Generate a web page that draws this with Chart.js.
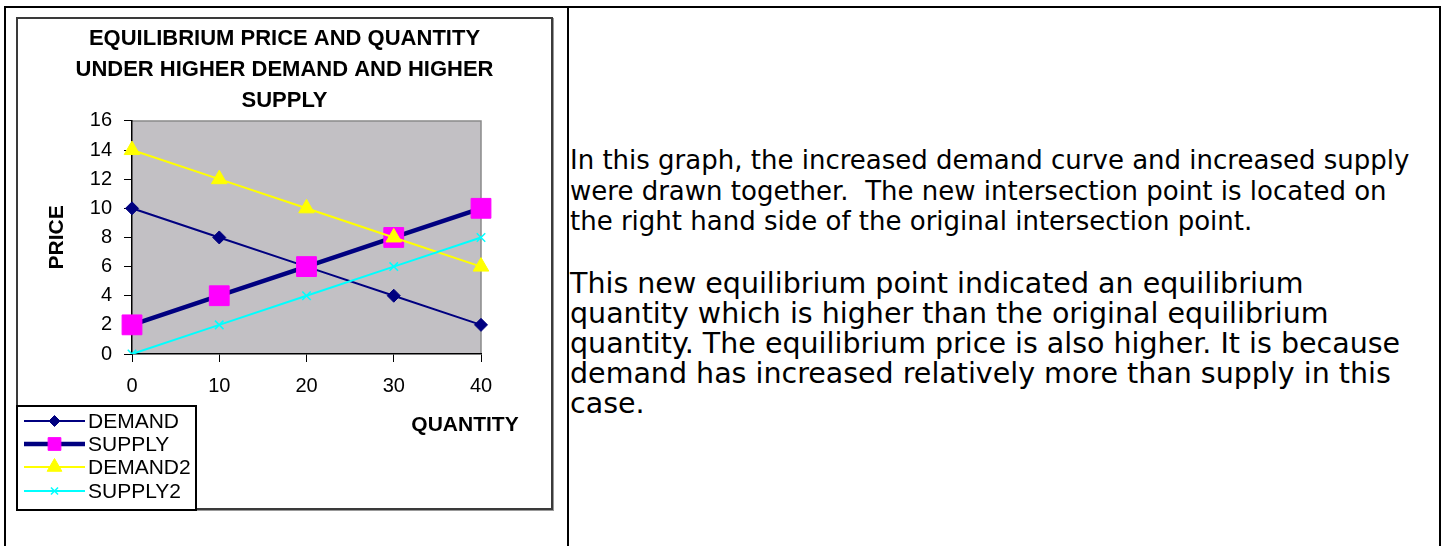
<!DOCTYPE html>
<html>
<head>
<meta charset="utf-8">
<script src="https://cdn.jsdelivr.net/npm/chart.js@4.4.0/dist/chart.umd.min.js"></script>
<style>
  body { margin: 0; background: #fff; width: 1443px; height: 546px; overflow: hidden; position: relative; }
  #frame { position: absolute; left: 4px; top: 6px; width: 1433px; height: 560px; border: 2px solid #000; border-bottom: none; }
  #divider { position: absolute; left: 567px; top: 6px; width: 2px; height: 560px; background: #000; }
  #chartBox { position: absolute; left: 16px; top: 17px; width: 533px; height: 489px; border: 2px solid #3a3a3a; box-shadow: 1px 1px 0 #999; background: #fff; }
  #chartBox canvas { display: block; }
  #legend { position: absolute; left: 16px; top: 405px; width: 177px; height: 100px; border: 2px solid #000; background: #fff; padding-top: 2px; box-sizing: content-box; }
  .row { height: 23.3px; display: flex; align-items: center; font: 21px "Liberation Sans", Arial, sans-serif; color: #000; }
  .row canvas { margin-left: 6px; margin-right: 3px; }
  .para { position: absolute; left: 570px; font-family: "DejaVu Sans", sans-serif; white-space: nowrap; color: #000; }
  #p1 { top: 145px; font-size: 26px; line-height: 30.5px; }
  #p2 { top: 269px; font-size: 28.5px; line-height: 30px; }
</style>
</head>
<body>
<div id="frame"></div>
<div id="divider"></div>
<div id="chartBox"><canvas id="myChart" width="533" height="489"></canvas></div>
<div id="legend"></div>
<div class="para" id="p1">In this graph, the increased demand curve and increased supply<br>were drawn together.&nbsp; The new intersection point is located on<br>the right hand side of the original intersection point.</div>
<div class="para" id="p2">This new equilibrium point indicated an equilibrium<br>quantity which is higher than the original equilibrium<br>quantity. The equilibrium price is also higher. It is because<br>demand has increased relatively more than supply in this<br>case.</div>
<script>
let quantity = ['0', '10', '20', '30', '40'];
let demand = [10, 8, 6, 4, 2];
let supply = [2, 4, 6, 8, 10];
let demand2 = [14, 12, 10, 8, 6];
let supply2 = [0, 2, 4, 6, 8];
let series_names = ['DEMAND', 'SUPPLY', 'DEMAND2', 'SUPPLY2'];
let price_min = 0;
let price_max = 16;
let price_step = 2;
let title_lines = ['EQUILIBRIUM PRICE AND QUANTITY', 'UNDER HIGHER DEMAND AND HIGHER', 'SUPPLY'];

Chart.defaults.font.family = '"Liberation Sans", Arial, sans-serif';
Chart.defaults.color = '#000';

// legend sample sizes differ a bit from the markers on the plot
let legend_radius = [5.5, 9, 8.5, 5];

let chart_data = {
    labels: quantity,
    datasets: [{
        label: series_names[0],
        data: demand,
        borderColor: '#000080',
        borderWidth: 2,
        pointStyle: 'rectRot',
        pointRadius: 6.5,
        pointBackgroundColor: '#000080',
        pointBorderColor: '#000080',
        pointBorderWidth: 1,
        order: 4
    },
    {
        label: series_names[1],
        data: supply,
        borderColor: '#000080',
        borderWidth: 4.5,
        pointStyle: 'rect',
        pointRadius: 14,
        pointBackgroundColor: '#ff00ff',
        pointBorderColor: '#ff00ff',
        pointBorderWidth: 1,
        order: 3
    },
    {
        label: series_names[2],
        data: demand2,
        borderColor: '#ffff00',
        borderWidth: 2,
        pointStyle: 'triangle',
        pointRadius: 9,
        pointBackgroundColor: '#ffff00',
        pointBorderColor: '#ffff00',
        pointBorderWidth: 1,
        order: 2
    },
    {
        label: series_names[3],
        data: supply2,
        borderColor: '#00ffff',
        borderWidth: 2,
        pointStyle: 'crossRot',
        pointRadius: 6,
        pointBackgroundColor: '#00ffff',
        pointBorderColor: '#00ffff',
        pointBorderWidth: 1.5,
        order: 1
    }]
};

// grey plot area with the grey top/right frame, like the old spreadsheet chart
let plotBackground = {
    id: 'plotBackground',
    beforeDraw(chart) {
        let ctx = chart.ctx;
        let a = chart.chartArea;
        ctx.save();
        ctx.fillStyle = '#c2c0c4';
        ctx.fillRect(a.left, a.top, a.width, a.height);
        ctx.strokeStyle = '#8a8a8a';
        ctx.lineWidth = 1.5;
        ctx.beginPath();
        ctx.moveTo(a.left, a.top);
        ctx.lineTo(a.right, a.top);
        ctx.lineTo(a.right, a.bottom);
        ctx.stroke();
        ctx.restore();
    }
};

// x axis title sits to the right of the legend, past the plot edge
let quantityTitle = {
    id: 'quantityTitle',
    afterDraw(chart) {
        let ctx = chart.ctx;
        let a = chart.chartArea;
        ctx.save();
        ctx.font = 'bold 21px "Liberation Sans", Arial, sans-serif';
        ctx.fillStyle = '#000';
        ctx.textAlign = 'center';
        ctx.textBaseline = 'middle';
        ctx.fillText('QUANTITY', a.right - 16, a.bottom + 71);
        ctx.restore();
    }
};

let config = {
    type: 'line',
    data: chart_data,
    options: {
        responsive: false,
        animation: false,
        layout: {
            padding: 0
        },
        elements: {
            line: { tension: 0, fill: false }
        },
        plugins: {
            legend: { display: false },
            tooltip: { enabled: false },
            title: {
                display: true,
                text: title_lines,
                color: '#000',
                font: { size: 22, weight: 'bold', lineHeight: 1.4 },
                padding: { top: 5, bottom: 4.5 }
            }
        },
        scales: {
            x: {
                type: 'category',
                offset: false,
                ticks: { color: '#000', font: { size: 20 }, padding: 12, maxRotation: 0, autoSkip: false },
                grid: { drawOnChartArea: false, drawTicks: true, tickLength: 8, color: '#000' },
                border: { display: true, color: '#000', width: 1.5 },
                afterFit: (scale) => { scale.height = 154; }
            },
            y: {
                min: price_min,
                max: price_max,
                ticks: { stepSize: price_step, color: '#000', font: { size: 20 }, padding: 12 },
                grid: { drawOnChartArea: false, drawTicks: true, tickLength: 8, color: '#000' },
                border: { display: true, color: '#000', width: 1.5 },
                title: {
                    display: true,
                    text: 'PRICE',
                    color: '#000',
                    font: { size: 21, weight: 'bold' },
                    padding: { top: 27, bottom: 19 }
                },
                afterFit: (scale) => { scale.width = 114; }
            },
            // empty strip on the right so the title stays centred on the whole box
            spacer: {
                position: 'right',
                display: true,
                grid: { display: false },
                ticks: { display: false },
                border: { display: false },
                afterFit: (scale) => { scale.width = 70; }
            }
        }
    },
    plugins: [plotBackground, quantityTitle]
};

let myChart = new Chart(document.getElementById('myChart'), config);

// legend stacked in the lower left corner, built from the chart's datasets
function drawSample(cnv, ds, radius) {
    let ctx = cnv.getContext('2d');
    let cy = cnv.height / 2;
    ctx.strokeStyle = ds.borderColor;
    ctx.lineWidth = ds.borderWidth;
    ctx.beginPath();
    ctx.moveTo(0, cy);
    ctx.lineTo(cnv.width, cy);
    ctx.stroke();
    ctx.fillStyle = ds.pointBackgroundColor;
    ctx.strokeStyle = ds.pointBorderColor;
    ctx.lineWidth = ds.pointBorderWidth;
    Chart.helpers.drawPoint(ctx, { pointStyle: ds.pointStyle, radius: radius, borderWidth: ds.pointBorderWidth, rotation: 0 }, cnv.width / 2, cy);
}

const legendBox = document.getElementById('legend');
chart_data.datasets.forEach((ds, i) => {
    let row = document.createElement('div');
    row.className = 'row';
    let cnv = document.createElement('canvas');
    cnv.width = 61;
    cnv.height = 22;
    row.appendChild(cnv);
    let span = document.createElement('span');
    span.textContent = ds.label;
    row.appendChild(span);
    legendBox.appendChild(row);
    drawSample(cnv, ds, legend_radius[i]);
});
</script>
</body>
</html>
